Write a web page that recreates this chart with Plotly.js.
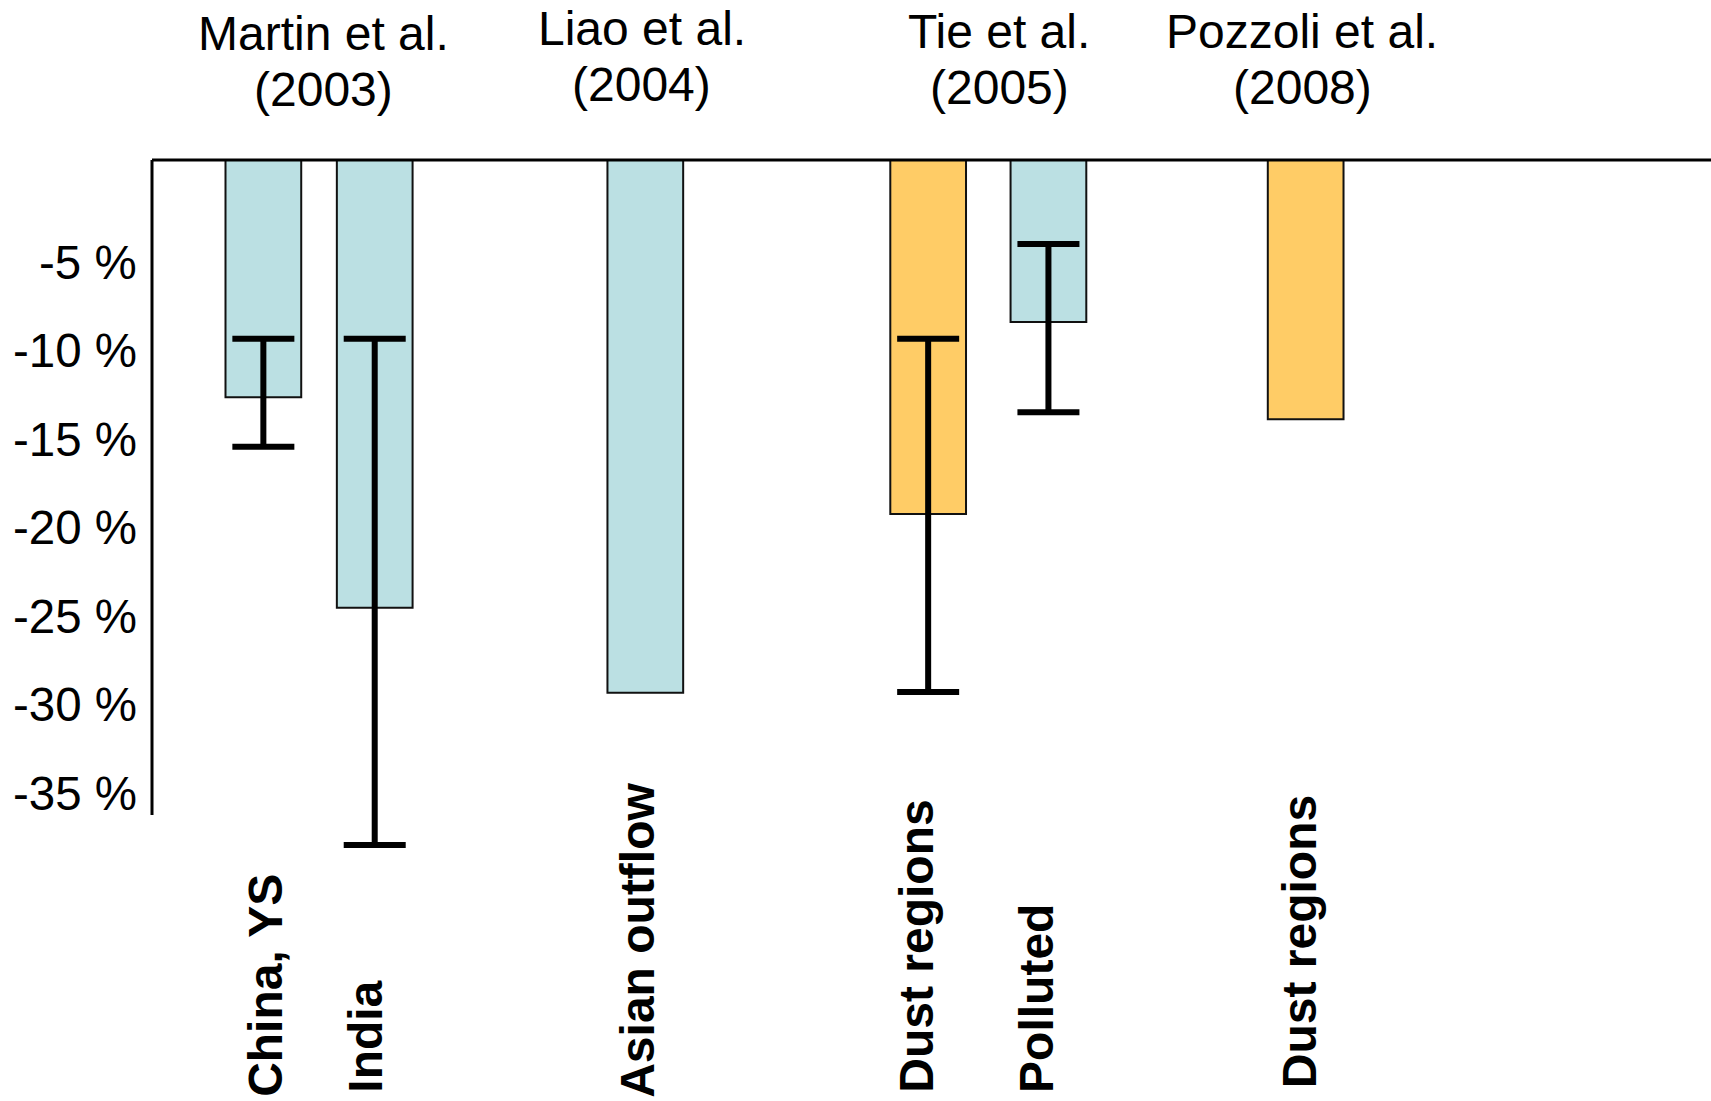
<!DOCTYPE html>
<html>
<head>
<meta charset="utf-8">
<script src="https://cdn.plot.ly/plotly-3.0.1.min.js"></script>
<style>
  html, body { margin: 0; padding: 0; background: #fff; }
  #chart { width: 1711px; height: 1101px; }
</style>
</head>
<body>
<div id="chart"></div>
<script>
// ---------------- DATA ----------------
const categories = ["China, YS", "India", "Asian outflow", "Dust regions", "Polluted", "Dust regions"];
const aerosolType = ["pollution", "pollution", "pollution", "dust", "pollution", "dust"];
const values = [-13.4, -25.3, -30.1, -20.0, -9.15, -14.65];
const rangeTop = [-10.1, -10.1, null, -10.1, -4.75, null];
const rangeBottom = [-16.2, -38.7, null, -30.05, -14.25, null];

const studies = ["Martin et al.", "Liao et al.", "Tie et al.", "Pozzoli et al."];
const studyYears = ["(2003)", "(2004)", "(2005)", "(2008)"];

const yTickVals = [-5, -10, -15, -20, -25, -30, -35];
const yTickText = ["-5 %", "-10 %", "-15 %", "-20 %", "-25 %", "-30 %", "-35 %"];

// ---------------- LAYOUT CONFIG ----------------
const X_RANGE = [0, 14];
const barX = [1, 2, 4.43, 6.97, 8.05, 10.36];
const BAR_W = 0.68;
const studyX = [1.54, 4.40, 7.61, 10.33];
const studyYShift = [-1, 4, 1, 1];
const catLabelXShift = [2, -10, -8, -12, -12, -6];
const catLabelYShift = [-4, 0, -5, 0, 0, 5];
const TICK_LABEL_YSHIFT = -13.5;   // tick labels sit slightly below their value
const Y_RANGE = [-40, 0];
const AXIS_BOTTOM = -37;
const FS = 48;

const colorMap = { pollution: "#BBE0E3", dust: "#FFCC66" };
const FONT = "Liberation Sans, Arial, sans-serif";

const M = { l: 152, r: 0, t: 160, b: 233 };
const plotH = 1101 - M.t - M.b;
const pxToPaperY = px => (1101 - M.b - px) / plotH;

// ---------------- TRACES ----------------
const traces = categories.map((c, i) => {
  const hasRange = rangeTop[i] !== null;
  return {
    type: "bar",
    x: [barX[i]],
    y: [values[i]],
    width: BAR_W,
    name: c,
    marker: { color: colorMap[aerosolType[i]], line: { color: "#111", width: 2 } },
    error_y: hasRange ? {
      type: "data", symmetric: false,
      array: [rangeTop[i] - values[i]],
      arrayminus: [values[i] - rangeBottom[i]],
      color: "#000", thickness: 6, width: 31
    } : { visible: false },
    hoverinfo: "skip"
  };
});

// ---------------- ANNOTATIONS ----------------
const annotations = [];
studies.forEach((s, i) => {
  annotations.push({
    text: s,
    x: studyX[i], xref: "x",
    y: pxToPaperY(32.5), yref: "paper",
    xanchor: "center", yanchor: "middle",
    yshift: studyYShift[i],
    showarrow: false,
    font: { family: FONT, size: FS, color: "#000" }
  });
  annotations.push({
    text: studyYears[i],
    x: studyX[i], xref: "x",
    y: pxToPaperY(89), yref: "paper",
    xanchor: "center", yanchor: "middle",
    yshift: studyYShift[i],
    showarrow: false,
    font: { family: FONT, size: FS, color: "#000" }
  });
});
categories.forEach((c, i) => {
  annotations.push({
    text: "<b>" + c + "</b>",
    x: barX[i], xref: "x",
    y: pxToPaperY(1095), yref: "paper",
    xanchor: "center", yanchor: "bottom",
    xshift: catLabelXShift[i], yshift: catLabelYShift[i],
    textangle: -90,
    showarrow: false,
    font: { family: FONT, size: FS, color: "#000" }
  });
});
// y-axis tick labels
yTickVals.forEach((v, i) => {
  annotations.push({
    text: yTickText[i],
    x: 0, xref: "paper",
    y: v, yref: "y",
    xanchor: "right", yanchor: "middle",
    xshift: -13, yshift: TICK_LABEL_YSHIFT,
    showarrow: false,
    font: { family: FONT, size: 47.5, color: "#000" }
  });
});

// ---------------- SHAPES (axis lines) ----------------
const shapes = [
  { type: "line", xref: "paper", yref: "paper", x0: 0, x1: 1, y0: 1, y1: 1,
    line: { color: "#000", width: 3 } },
  { type: "line", xref: "paper", yref: "paper", x0: 0, x1: 0,
    y0: 1, y1: (AXIS_BOTTOM - Y_RANGE[0]) / (Y_RANGE[1] - Y_RANGE[0]),
    line: { color: "#000", width: 3 } }
];

const layout = {
  width: 1711, height: 1101,
  margin: M,
  paper_bgcolor: "#fff", plot_bgcolor: "#fff",
  showlegend: false,
  barmode: "overlay",
  xaxis: {
    range: X_RANGE, showgrid: false, zeroline: false, showline: false,
    showticklabels: false, ticks: "", fixedrange: true
  },
  yaxis: {
    range: Y_RANGE, showgrid: false, zeroline: false, showline: false,
    tickvals: yTickVals, showticklabels: false, ticks: "",
    automargin: false, fixedrange: true
  },
  annotations: annotations,
  shapes: shapes,
  font: { family: FONT }
};

Plotly.newPlot("chart", traces, layout, { staticPlot: true, displayModeBar: false });
</script>
</body>
</html>
